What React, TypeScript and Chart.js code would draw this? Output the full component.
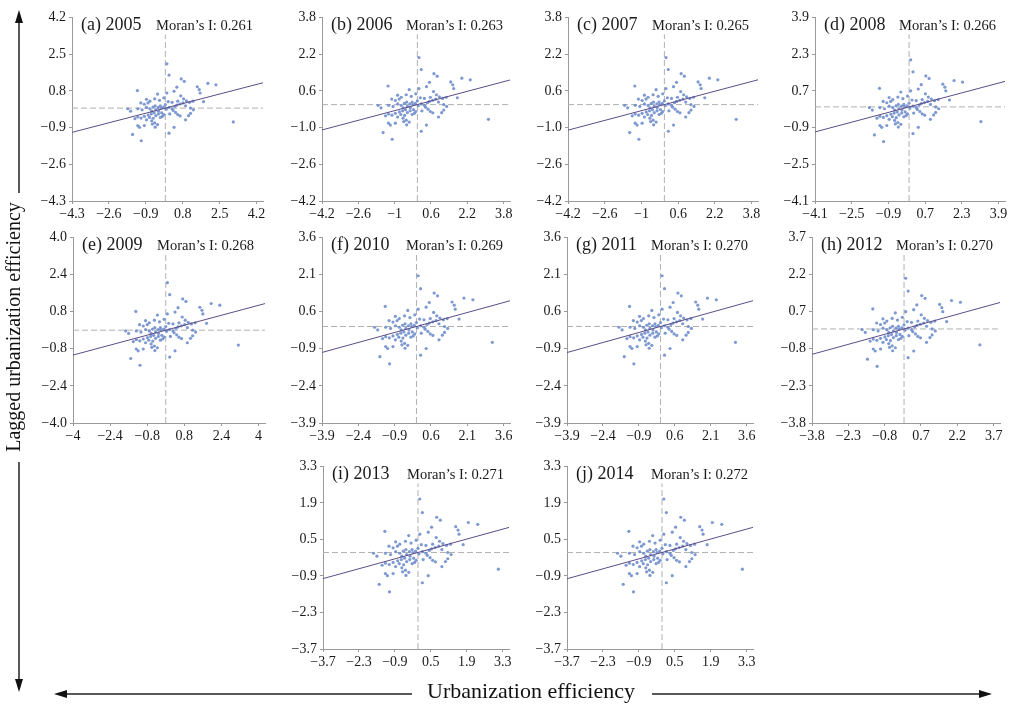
import React, { useEffect, useRef } from 'react';
import { Chart, registerables } from 'chart.js';
Chart.register(...registerables);

// ---------- DATA ----------
const panelLetters = ['a', 'b', 'c', 'd', 'e', 'f', 'g', 'h', 'i', 'j'];
const years = ['2005', '2006', '2007', '2008', '2009', '2010', '2011', '2012', '2013', '2014'];
const moranI = [0.261, 0.263, 0.265, 0.266, 0.268, 0.269, 0.27, 0.27, 0.271, 0.272];

// tick values (same set on x and y axis of each panel)
const axisTicks = [
  [-4.3, -2.6, -0.9, 0.8, 2.5, 4.2],
  [-4.2, -2.6, -1.0, 0.6, 2.2, 3.8],
  [-4.2, -2.6, -1.0, 0.6, 2.2, 3.8],
  [-4.1, -2.5, -0.9, 0.7, 2.3, 3.9],
  [-4.0, -2.4, -0.8, 0.8, 2.4, 4.0],
  [-3.9, -2.4, -0.9, 0.6, 2.1, 3.6],
  [-3.9, -2.4, -0.9, 0.6, 2.1, 3.6],
  [-3.8, -2.3, -0.8, 0.7, 2.2, 3.7],
  [-3.7, -2.3, -0.9, 0.5, 1.9, 3.3],
  [-3.7, -2.3, -0.9, 0.5, 1.9, 3.3],
];

// standardized urbanization efficiency (x) and its spatial lag (y), one entry per city
const cityZ = [
  0.07, 0.17, 0.73, 0.87, 0.53, 1.47, 1.56, 1.96, 2.33, -1.29, 1.6, 0.4, 0.07,
  -0.36, -0.87, -0.71, -0.49, -0.27, -0.07, 0.71, 0.84, 0.97, 1.11, 1.27, 1.76,
  -1.13, -0.97, -0.8, 0.57, 0.31, 0.13,
  -1.73, -1.6, -1.27, -1.07, -0.87, -0.71, -0.57, -0.44, -0.31, -0.2, -0.09, 0.04,
  0.17, 0.31, 0.44, 0.53, 0.67, 0.81, 0.93, 1.16, 1.29, -0.47, -0.33, -0.23, -0.63,
  0.0, 0.36,
  1.16, 1.07, -1.27, -1.12, -0.97, -0.79, -0.65, -0.52, -0.44, -0.32, -0.17, -0.07,
  0.47, 0.57, 0.68, -1.4, -0.87, -0.63, -0.49, -0.36, -0.23, 0.93, -0.56, -0.73,
  -0.13, 0.2,
  -1.27, -1.19, -0.97, -0.47, 0.4, 3.13, -1.51, 0.17, -1.11, -0.6,
];
const cityLag = [
  2.05, 1.53, 1.35, 1.24, 0.97, 0.99, 0.86, 1.15, 1.08, 0.81, 0.7, 0.78, 0.7,
  0.65, 0.41, 0.32, 0.43, 0.36, 0.47, 0.57, 0.43, 0.34, 0.27, 0.32, 0.3,
  0.24, 0.18, 0.24, 0.32, 0.27, 0.3,
  -0.03, -0.14, -0.03, -0.08, 0.03, -0.03, 0.05, -0.08, -0.14, 0.0, 0.05, -0.05,
  0.03, -0.03, 0.08, 0.14, 0.19, 0.24, 0.11, 0.0, -0.08, 0.11, 0.03, 0.11, -0.14,
  0.16, -0.11,
  -0.24, -0.35, -0.41, -0.46, -0.38, -0.32, -0.27, -0.22, -0.35, -0.27, -0.22, -0.3,
  -0.2, -0.3, -0.36, -0.49, -0.54, -0.59, -0.68, -0.76, -0.43, -0.54, -0.47, -0.43,
  -0.38, -0.27,
  -0.81, -0.89, -0.81, -0.88, -0.89, -0.64, -1.22, -1.16, -1.51, -0.74,
];

// ---------- LAYOUT (plot-area boxes in page pixels) ----------
const panelLeft = [72, 322, 568, 815, 73, 322, 567, 812, 323, 567];
const panelTop = [16, 16, 16, 16, 236, 236, 236, 236, 465, 465];
const panelWidth = [191, 188, 190, 190, 192, 188, 186, 188, 186, 186];
const panelHeight = [185, 185, 185, 185, 187, 187, 187, 187, 184, 184];

const YW = 48; // y-axis box width
const XH = 26; // x-axis box height
const PT = 10; // top padding
const PR = 18; // right padding

const SERIF = '"Liberation Serif", "Times New Roman", serif';

const fmtX = (v: number) => {
  const r = Math.round(v * 10) / 10;
  const s = Number.isInteger(r) ? String(r) : r.toFixed(1);
  return s.replace('-', '\u2212');
};
const fmtY = (v: number) => (Math.round(v * 10) / 10).toFixed(1).replace('-', '\u2212');

function Panel({ idx }: { idx: number }) {
  const ref = useRef<HTMLCanvasElement>(null);
  useEffect(() => {
    const ticks = axisTicks[idx];
    const tMin = ticks[0];
    const tMax = ticks[ticks.length - 1];
    const xMax = tMax + (tMax - tMin) * 0.035;
    const I = moranI[idx];
    const pts = cityZ.map((x, i) => ({ x, y: cityLag[i] }));
    const titlePlugin = {
      id: 'panelTitle',
      afterDatasetsDraw(chart: any) {
        const { ctx, chartArea } = chart;
        ctx.save();
        const base = chartArea.top + 13;
        ctx.font = `18px ${SERIF}`;
        const t1 = `(${panelLetters[idx]}) ${years[idx]}`;
        const w1 = ctx.measureText(t1).width;
        ctx.font = `14.5px ${SERIF}`;
        const t2 = `Moran\u2019s I: ${moranI[idx].toFixed(3)}`;
        const w2 = ctx.measureText(t2).width;
        ctx.fillStyle = '#ffffff';
        ctx.fillRect(chartArea.left + 6, chartArea.top - 2, w1 + 6, 19);
        ctx.fillRect(chartArea.left + 82, chartArea.top, w2 + 4, 17);
        ctx.fillStyle = '#1a1a1a';
        ctx.textBaseline = 'alphabetic';
        ctx.textAlign = 'left';
        ctx.font = `18px ${SERIF}`;
        ctx.fillText(t1, chartArea.left + 9, base);
        ctx.font = `14.5px ${SERIF}`;
        ctx.fillText(t2, chartArea.left + 84, base);
        ctx.restore();
      },
    };
    const tickFont = { family: SERIF, size: 14 };
    const chart = new Chart(ref.current as HTMLCanvasElement, {
      type: 'scatter',
      data: {
        datasets: [
          {
            type: 'line',
            data: [
              { x: tMin, y: I * tMin },
              { x: xMax, y: I * xMax },
            ],
            borderColor: '#5d4d88',
            borderWidth: 1,
            pointRadius: 0,
            fill: false,
          } as any,
          {
            data: pts,
            pointRadius: 1.6,
            pointBackgroundColor: 'rgba(112,142,204,0.9)',
            pointBorderWidth: 0,
            backgroundColor: 'rgba(112,142,204,0.9)',
          },
          {
            type: 'line',
            data: [
              { x: tMin, y: 0 },
              { x: xMax, y: 0 },
            ],
            borderColor: '#b0b0b0',
            borderWidth: 1,
            borderDash: [6, 3],
            pointRadius: 0,
            fill: false,
          } as any,
          {
            type: 'line',
            data: [
              { x: 0, y: tMin },
              { x: 0, y: tMax },
            ],
            borderColor: '#b0b0b0',
            borderWidth: 1,
            borderDash: [6, 3],
            pointRadius: 0,
            fill: false,
          } as any,
        ],
      },
      options: {
        animation: false,
        responsive: false,
        maintainAspectRatio: false,
        events: [],
        plugins: { legend: { display: false }, tooltip: { enabled: false } },
        layout: { padding: { left: 0, top: PT, right: PR, bottom: 0 } },
        scales: {
          x: {
            type: 'linear',
            min: tMin,
            max: xMax,
            afterBuildTicks: (s: any) => {
              s.ticks = ticks.map((v) => ({ value: v }));
            },
            afterFit: (s: any) => {
              s.height = XH;
            },
            ticks: {
              callback: (v: any) => fmtX(Number(v)),
              font: tickFont,
              color: '#1a1a1a',
              padding: 2,
              maxRotation: 0,
              autoSkip: false,
            },
            grid: { drawOnChartArea: false, drawTicks: true, tickLength: 3, color: '#9a9a9a' },
            border: { color: '#9a9a9a', width: 1 },
          },
          y: {
            type: 'linear',
            min: tMin,
            max: tMax,
            afterBuildTicks: (s: any) => {
              s.ticks = ticks.map((v) => ({ value: v }));
            },
            afterFit: (s: any) => {
              s.width = YW;
            },
            ticks: {
              callback: (v: any) => fmtY(Number(v)),
              font: tickFont,
              color: '#1a1a1a',
              padding: 3,
              autoSkip: false,
            },
            grid: { drawOnChartArea: false, drawTicks: true, tickLength: 3, color: '#9a9a9a' },
            border: { color: '#9a9a9a', width: 1 },
          },
        },
      } as any,
      plugins: [titlePlugin],
    });
    return () => chart.destroy();
  }, [idx]);
  const w = YW + panelWidth[idx] + PR;
  const h = PT + panelHeight[idx] + XH;
  return (
    <canvas
      ref={ref}
      width={w}
      height={h}
      style={{
        position: 'absolute',
        left: panelLeft[idx] - YW,
        top: panelTop[idx] - PT,
        width: w,
        height: h,
      }}
    />
  );
}

export default function App() {
  const textStyle: React.CSSProperties = {
    position: 'absolute',
    fontFamily: SERIF,
    fontSize: 20,
    color: '#111',
    whiteSpace: 'nowrap',
    lineHeight: '22px',
  };
  return (
    <div
      style={{
        position: 'fixed',
        left: 0,
        top: 0,
        width: 1015,
        height: 704,
        background: '#ffffff',
        overflow: 'hidden',
      }}
    >
      {panelLetters.map((_, i) => (
        <Panel key={i} idx={i} />
      ))}
      <svg
        width={1015}
        height={704}
        style={{ position: 'absolute', left: 0, top: 0, pointerEvents: 'none' }}
      >
        <line x1={19} y1={22} x2={19} y2={193} stroke="#222" strokeWidth={1.5} />
        <polygon points="19,10 15,23 23,23" fill="#111" />
        <line x1={19} y1={462} x2={19} y2={680} stroke="#222" strokeWidth={1.5} />
        <polygon points="19,692 15,679 23,679" fill="#111" />
        <line x1={66} y1={694} x2={412} y2={694} stroke="#222" strokeWidth={1.5} />
        <polygon points="54,694 67,690 67,698" fill="#111" />
        <line x1={652} y1={694} x2={980} y2={694} stroke="#222" strokeWidth={1.5} />
        <polygon points="992,694 979,690 979,698" fill="#111" />
      </svg>
      <div
        style={{
          ...textStyle,
          left: 13,
          top: 327,
          transform: 'translate(-50%, -50%) rotate(-90deg)',
        }}
      >
        Lagged urbanization efficiency
      </div>
      <div
        style={{
          ...textStyle,
          fontSize: 22,
          left: 531,
          top: 691,
          transform: 'translate(-50%, -50%)',
        }}
      >
        Urbanization efficiency
      </div>
    </div>
  );
}
